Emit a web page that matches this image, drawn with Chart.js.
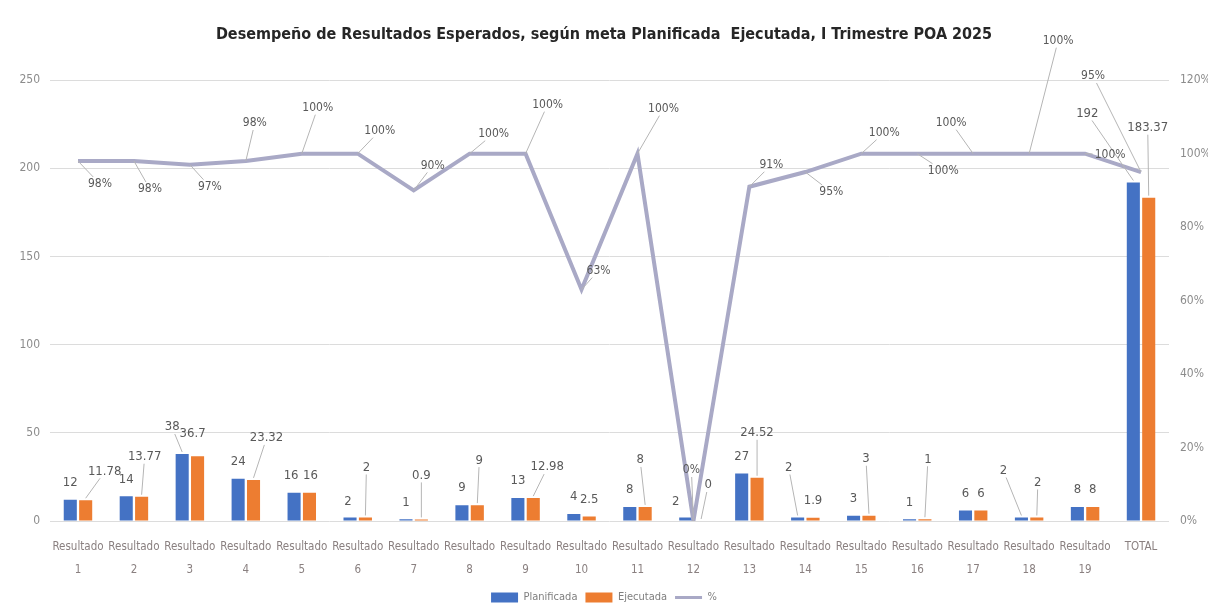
<!DOCTYPE html>
<html>
<head>
<meta charset="utf-8">
<script src="https://cdn.jsdelivr.net/npm/chart.js@4.4.1/dist/chart.umd.min.js"></script>
<style>
  html, body { margin: 0; padding: 0; background: #fff; }
  #wrap { width: 1208px; height: 616px; }
</style>
</head>
<body>
<div id="wrap"><canvas id="chart"></canvas></div>
<script>
const categories = [
  "Resultado 1", "Resultado 2", "Resultado 3", "Resultado 4", "Resultado 5",
  "Resultado 6", "Resultado 7", "Resultado 8", "Resultado 9", "Resultado 10",
  "Resultado 11", "Resultado 12", "Resultado 13", "Resultado 14", "Resultado 15",
  "Resultado 16", "Resultado 17", "Resultado 18", "Resultado 19", "TOTAL"
];
const planificada = [12, 14, 38, 24, 16, 2, 1, 9, 13, 4, 8, 2, 27, 2, 3, 1, 6, 2, 8, 192];
const ejecutada = [11.78, 13.77, 36.7, 23.32, 16, 2, 0.9, 9, 12.98, 2.5, 8, 0, 24.52, 1.9, 3, 1, 6, 2, 8, 183.37];
const porcentaje = [98, 98, 97, 98, 100, 100, 90, 100, 100, 63, 100, 0, 91, 95, 100, 100, 100, 100, 100, 95];

const leftMax = 250, leftStep = 50;
const rightMax = 120, rightStep = 20;

// where the data labels were dragged to in the original (dx, dy from the mark)
const planNudge = [[0,-17],[0,-17],[-10,-27],[0,-17],[-3,-17],[-2,-16],[0,-17],[0,-18],[0,-17],[0,-17],
  [0,-17],[-10,-16],[0,-17],[-9,-50],[0,-17],[0,-17],[0,-17],[-18,-47],[0,-17],[-46,-69]];
const ejecNudge = [[19,-29],[3,-40],[-5,-23],[13,-42],[1,-17],[1,-50],[0,-44],[2,-45],[14,-31],[0,-17],
  [-5,-47],[7,-36],[0,-45],[0,-17],[-3,-57],[3,-60],[0,-17],[1,-35],[0,-17],[-1,-70]];
const pctNudge = [[22,23],[16,28],[20,22],[9,-38],[16,-46],[22,-23],[19,-25],[24,-20],[22,-49],[17,-19],
  [26,-45],[-2,-51],[22,-22],[26,20],[23,-21],[26,17],[-22,-31],[29,-113],[25,1],[-48,-96]];

const FONT = "'Liberation Sans Narrow', 'DejaVu Sans Condensed', 'Liberation Sans', sans-serif";
const BLUE = "#4472C4";
const ORANGE = "#ED7D31";
const LINE = "#a9a9c6";

// data labels + leader lines
const labelPlugin = {
  id: "dataLabels",
  afterDatasetsDraw(chart) {
    const ctx = chart.ctx;
    ctx.save();
    ctx.textAlign = "center";
    ctx.textBaseline = "middle";
    chart.data.datasets.forEach((ds, di) => {
      const meta = chart.getDatasetMeta(di);
      const isLine = ds.type === "line";
      ctx.font = (isLine ? "12px " : "13px ") + FONT;
      meta.data.forEach((el, i) => {
        const text = isLine ? ds.data[i] + "%" : String(ds.data[i]);
        const [dx, dy] = ds.labelNudge[i];
        const ax = el.x, ay = el.y;
        const lx = ax + dx, ly = ay + dy;
        const w = ctx.measureText(text).width / 2 + 2;
        const h = 7;
        const dist = Math.hypot(dx, dy);
        if (dist > (isLine ? 20 : 24)) {
          const t = Math.min(dx ? w / Math.abs(dx) : Infinity, dy ? h / Math.abs(dy) : Infinity);
          const ex = lx - dx * t, ey = ly - dy * t;
          ctx.strokeStyle = "#b5b5b5";
          ctx.lineWidth = 1;
          ctx.beginPath();
          ctx.moveTo(ax, ay - (isLine ? 0 : 2));
          ctx.lineTo(ex, ey);
          ctx.stroke();
        }
        ctx.fillStyle = "#595959";
        ctx.fillText(text, lx, ly);
      });
    });
    ctx.restore();
  }
};

new Chart(document.getElementById("chart"), {
  type: "bar",
  data: {
    labels: categories,
    datasets: [
      {
        label: "Planificada",
        data: planificada,
        backgroundColor: BLUE,
        yAxisID: "y",
        order: 1,
        labelNudge: planNudge
      },
      {
        label: "Ejecutada",
        data: ejecutada,
        backgroundColor: ORANGE,
        yAxisID: "y",
        order: 1,
        labelNudge: ejecNudge
      },
      {
        type: "line",
        label: "%",
        data: porcentaje,
        borderColor: LINE,
        backgroundColor: LINE,
        borderWidth: 4,
        pointRadius: 0,
        tension: 0,
        yAxisID: "y1",
        order: 0,
        labelNudge: pctNudge
      }
    ]
  },
  options: {
    responsive: true,
    maintainAspectRatio: false,
    animation: false,
    devicePixelRatio: 1,
    layout: { padding: { left: 0, right: 0, top: 0, bottom: 3 } },
    datasets: {
      bar: { categoryPercentage: 0.55, barPercentage: 0.85 }
    },
    scales: {
      x: {
        grid: { display: false, drawTicks: false },
        border: { display: false },
        ticks: {
          padding: 15,
          color: "#8a8080",
          font: { family: FONT, size: 11.5, lineHeight: 2 },
          maxRotation: 0,
          autoSkip: false,
          callback: function (v) {
            const s = this.getLabelForValue(v);
            return s.indexOf(" ") > 0 ? s.split(" ") : s;
          }
        },
        afterFit(scale) { scale.height = 63; }
      },
      y: {
        position: "left",
        min: 0,
        max: leftMax,
        grid: { color: "#dcdcdc", drawTicks: false },
        border: { display: false },
        ticks: {
          stepSize: leftStep,
          padding: 10,
          color: "#8c8c8c",
          font: { family: FONT, size: 12 }
        },
        afterFit(scale) { scale.width = 50; }
      },
      y1: {
        position: "right",
        min: 0,
        max: rightMax,
        grid: { display: false, drawTicks: false },
        border: { display: false },
        ticks: {
          stepSize: rightStep,
          padding: 11,
          color: "#8c8c8c",
          font: { family: FONT, size: 12 },
          callback: v => v + "%"
        },
        afterFit(scale) { scale.width = 39; }
      }
    },
    plugins: {
      title: {
        display: true,
        text: "Desempeño de Resultados Esperados, según meta Planificada  Ejecutada, I Trimestre POA 2025",
        color: "#262626",
        font: { family: FONT, size: 16, weight: "bold" },
        padding: { top: 25, bottom: 36 }
      },
      legend: {
        position: "bottom",
        labels: {
          usePointStyle: true,
          pointStyleWidth: 27,
          boxHeight: 10,
          padding: 8,
          color: "#7f7f7f",
          font: { family: FONT, size: 11 },
          sort: (a, b) => a.datasetIndex - b.datasetIndex,
          generateLabels(chart) {
            const items = Chart.defaults.plugins.legend.labels.generateLabels(chart);
            items.forEach(it => {
              const ds = chart.data.datasets[it.datasetIndex];
              if (ds.type === "line") {
                it.pointStyle = "line";
                it.lineWidth = 3;
                it.strokeStyle = LINE;
              } else {
                it.pointStyle = "rect";
                it.lineWidth = 0;
              }
            });
            return items;
          }
        }
      },
      tooltip: { enabled: false }
    }
  },
  plugins: [labelPlugin]
});
</script>
</body>
</html>
